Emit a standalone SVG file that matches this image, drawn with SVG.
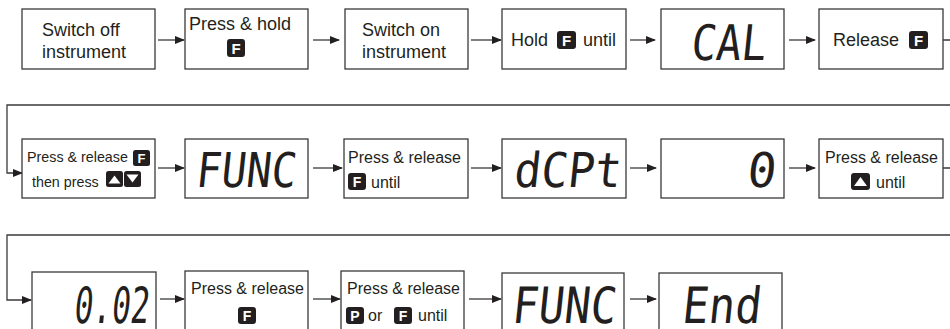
<svg xmlns="http://www.w3.org/2000/svg" width="950" height="329" viewBox="0 0 950 329">
<defs>
<style>
.box{fill:#fff;stroke:#3a3a3a;stroke-width:1.3}
.t{font-family:"Liberation Sans",Arial,sans-serif;fill:#231f20}
.t18{font-size:18px}
.t16{font-size:16px}
.t14{font-size:14.3px}
.seg{font-family:"DejaVu Sans Mono","Liberation Mono",monospace;fill:#231f20}
.key{fill:#231f20}
.kl{font-family:"Liberation Sans",Arial,sans-serif;font-weight:bold;fill:#fff;text-anchor:middle}
.tri{fill:#fff}
.c{fill:none;stroke:#3a3a3a;stroke-width:1.3}
</style>
<marker id="ah" markerUnits="userSpaceOnUse" markerWidth="10" markerHeight="10" viewBox="0 0 10 10" refX="9" refY="5" orient="auto">
<path d="M0,1 L10,5 L0,9 Z" fill="#231f20"/>
</marker>
</defs>

<g id="connectors">
<path class="c" d="M158,40 H184" marker-end="url(#ah)"/>
<path class="c" d="M313,40 H339" marker-end="url(#ah)"/>
<path class="c" d="M471,40 H501" marker-end="url(#ah)"/>
<path class="c" d="M630,40 H655" marker-end="url(#ah)"/>
<path class="c" d="M789,40 H815" marker-end="url(#ah)"/>
<path class="c" d="M943,40 H958 V105 H7 V173 H22" marker-end="url(#ah)"/>
<path class="c" d="M158,168 H184" marker-end="url(#ah)"/>
<path class="c" d="M313,168 H342" marker-end="url(#ah)"/>
<path class="c" d="M471,168 H501" marker-end="url(#ah)"/>
<path class="c" d="M630,168 H656" marker-end="url(#ah)"/>
<path class="c" d="M789,168 H815" marker-end="url(#ah)"/>
<path class="c" d="M943,168 H958 V235 H7 V300 H31" marker-end="url(#ah)"/>
<path class="c" d="M160,299 H184" marker-end="url(#ah)"/>
<path class="c" d="M313,299 H340" marker-end="url(#ah)"/>
<path class="c" d="M469,299 H501" marker-end="url(#ah)"/>
<path class="c" d="M630,299 H656" marker-end="url(#ah)"/>
</g>

<g id="n1">
<rect class="box" x="22" y="9" width="133" height="60"/>
<text class="t t18" x="42" y="36">Switch off</text>
<text class="t t18" x="42" y="58">instrument</text>
</g>
<g id="n2">
<rect class="box" x="185" y="9" width="123" height="60"/>
<text class="t t18" x="189" y="30">Press &amp; hold</text>
<rect class="key" x="227" y="39" width="18" height="18" rx="3"/>
<text class="kl" x="236" y="54" font-size="15">F</text>
</g>
<g id="n3">
<rect class="box" x="345" y="9" width="123" height="60"/>
<text class="t t18" x="362" y="36">Switch on</text>
<text class="t t18" x="362" y="58">instrument</text>
</g>
<g id="n4">
<rect class="box" x="502" y="9" width="124" height="60"/>
<text class="t t18" x="511" y="46">Hold</text>
<rect class="key" x="557" y="31" width="19" height="18" rx="3"/>
<text class="kl" x="566.5" y="46" font-size="15">F</text>
<text class="t t18" x="583" y="46">until</text>
</g>
<g id="n5">
<rect class="box" x="661" y="9" width="123" height="60"/>
<text class="seg" transform="translate(690,60) skewX(-6)" font-size="49" textLength="75" lengthAdjust="spacingAndGlyphs">CAL</text>
</g>
<g id="n6">
<rect class="box" x="819" y="9" width="124" height="60"/>
<text class="t t18" x="833" y="46">Release</text>
<rect class="key" x="909" y="31" width="19" height="18" rx="3"/>
<text class="kl" x="918.5" y="46" font-size="15">F</text>
</g>

<g id="n7">
<rect class="box" x="22" y="139" width="133" height="59"/>
<text class="t t14" x="27" y="162">Press &amp; release</text>
<rect class="key" x="133" y="150" width="17" height="16" rx="2.5"/>
<text class="kl" x="141.5" y="163" font-size="13">F</text>
<text class="t t14" x="32" y="187">then press</text>
<rect class="key" x="106" y="171" width="17" height="16" rx="2.5"/>
<polygon class="tri" points="108.5,183.5 120.5,183.5 114.5,175.5"/>
<rect class="key" x="124" y="171" width="17" height="16" rx="2.5"/>
<polygon class="tri" points="126.5,174.5 138.5,174.5 132.5,182.5"/>
</g>
<g id="n8">
<rect class="box" x="185" y="139" width="123" height="59"/>
<text class="seg" transform="translate(195,187) skewX(-6)" font-size="48" textLength="100" lengthAdjust="spacingAndGlyphs">FUNC</text>
</g>
<g id="n9">
<rect class="box" x="344" y="139" width="124" height="59"/>
<text class="t t16" x="348" y="163">Press &amp; release</text>
<rect class="key" x="348" y="173" width="18" height="17" rx="3"/>
<text class="kl" x="357" y="187" font-size="14">F</text>
<text class="t t16" x="371" y="188">until</text>
</g>
<g id="n10">
<rect class="box" x="502" y="139" width="124" height="59"/>
<text class="seg" transform="translate(513,187) skewX(-6)" font-size="48" textLength="107" lengthAdjust="spacingAndGlyphs">dCPt</text>
</g>
<g id="n11">
<rect class="box" x="661" y="139" width="123" height="59"/>
<text class="seg" transform="translate(775,187) skewX(-6)" font-size="48" text-anchor="end">0</text>
</g>
<g id="n12">
<rect class="box" x="819" y="139" width="124" height="59"/>
<text class="t t16" x="825" y="163">Press &amp; release</text>
<rect class="key" x="851" y="173" width="19" height="17" rx="3"/>
<polygon class="tri" points="854,186 867,186 860.5,177"/>
<text class="t t16" x="876" y="188">until</text>
</g>

<g id="n13">
<rect class="box" x="32" y="272" width="124" height="62"/>
<text class="seg" transform="translate(73,323) skewX(-6)" font-size="50" textLength="75" lengthAdjust="spacingAndGlyphs">0.02</text>
</g>
<g id="n14">
<rect class="box" x="185" y="271" width="123" height="63"/>
<text class="t t16" x="191" y="294">Press &amp; release</text>
<rect class="key" x="238" y="307" width="18" height="17" rx="3"/>
<text class="kl" x="247" y="321" font-size="14">F</text>
</g>
<g id="n15">
<rect class="box" x="341" y="271" width="123" height="63"/>
<text class="t t16" x="347" y="294">Press &amp; release</text>
<rect class="key" x="346" y="307" width="18" height="17" rx="3"/>
<text class="kl" x="355" y="321" font-size="14">P</text>
<text class="t t16" x="368" y="321">or</text>
<rect class="key" x="394" y="307" width="18" height="17" rx="3"/>
<text class="kl" x="403" y="321" font-size="14">F</text>
<text class="t t16" x="418" y="321">until</text>
</g>
<g id="n16">
<rect class="box" x="502" y="273" width="122" height="61"/>
<text class="seg" transform="translate(511,323) skewX(-6)" font-size="50" textLength="104" lengthAdjust="spacingAndGlyphs">FUNC</text>
</g>
<g id="n17">
<rect class="box" x="659" y="273" width="123" height="61"/>
<text class="seg" transform="translate(681,323) skewX(-6)" font-size="50" textLength="79" lengthAdjust="spacingAndGlyphs">End</text>
</g>
</svg>
